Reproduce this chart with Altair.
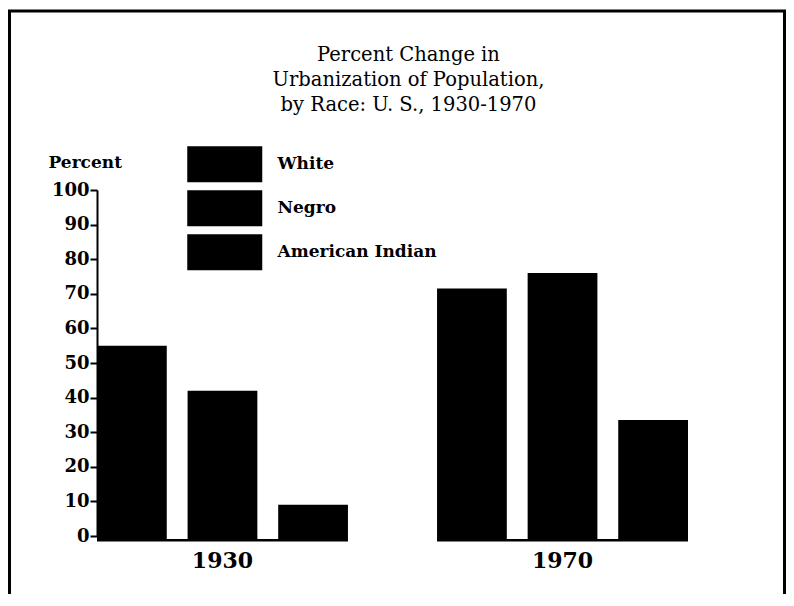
import altair as alt
import pandas as pd

years = ["1930", "1970"]
races = ["White", "Negro", "American Indian"]
pct_1930 = [55, 42, 9]
pct_1970 = [71.5, 76, 33.5]
y_ticks = list(range(0, 101, 10))
title_lines = ["Percent Change in", "Urbanization of Population,", "by Race: U. S., 1930-1970"]

rows = []
for yr, vals in zip(years, [pct_1930, pct_1970]):
    for r, v in zip(races, vals):
        rows.append({"year": yr, "race": r, "pct": v})
df = pd.DataFrame(rows)
df_years = pd.DataFrame({"year": years})

SERIF = "DejaVu Serif"
W, H = 591, 346
PAD_L, PAD_T, PAD_R, PAD_B = 89, 182, 98, 58

xscale = alt.Scale(domain=years, paddingInner=0.262, paddingOuter=0)
yscale = alt.Scale(domain=[0, 100], nice=False)
yaxis = alt.Axis(values=y_ticks, grid=False, domainColor="black", domainWidth=2,
                 tickColor="black", tickWidth=2, tickSize=7, labelOverlap=False,
                 labelFont=SERIF, labelFontSize=18, labelFontWeight="bold",
                 labelColor="black", labelPadding=1,
                 title="Percent", titleAngle=0, titleAlign="left",
                 titleBaseline="alphabetic", titleX=-49, titleY=-23,
                 titleFont=SERIF, titleFontSize=17, titleFontWeight="bold",
                 titleColor="black")
xaxis = alt.Axis(domain=False, ticks=False, labelAngle=0,
                 labelFont=SERIF, labelFontSize=22, labelFontWeight="bold",
                 labelColor="black", labelPadding=14)

# legend box: 75 x 36 px drawn with a path spanning x in [-2, 2]
bars = alt.Chart(df).mark_bar(color="black").encode(
    x=alt.X("year:N", scale=xscale, title=None, axis=xaxis),
    xOffset=alt.XOffset("race:N", sort=races,
                        scale=alt.Scale(domain=races, paddingInner=0.23, paddingOuter=0)),
    y=alt.Y("pct:Q", scale=yscale, axis=yaxis),
    y2=alt.datum(-1.3),
    color=alt.Color("race:N", sort=races,
                    scale=alt.Scale(domain=races, range=["black", "black", "black"]),
                    legend=alt.Legend(title=None, orient="none", legendX=108.75, legendY=-44.75,
                                      symbolType="M-2,-0.96H2V0.96H-2Z", symbolSize=1406.25,
                                      symbolStrokeWidth=0, symbolFillColor="black",
                                      symbolOpacity=1, labelFont=SERIF, labelFontSize=17,
                                      labelFontWeight="bold", labelColor="black",
                                      labelOffset=33.75, rowPadding=7, padding=0)),
)

baseline = alt.Chart(df_years).mark_rect(color="black").encode(
    x=alt.X("year:N", scale=xscale, title=None, axis=xaxis),
    y=alt.YDatum(-0.9, scale=yscale, axis=yaxis),
    y2=alt.datum(-1.6),
)

frame = alt.Chart(pd.DataFrame({"f": [0]})).mark_rect(
    fillOpacity=0, stroke="black", strokeWidth=3
).encode(
    x=alt.value(-PAD_L + 1.5), x2=alt.value(W + PAD_R - 1.5),
    y=alt.value(-179), y2=alt.value(H + 90)
)

chart = alt.layer(bars, baseline, frame).properties(
    width=W, height=H,
    autosize=alt.AutoSizeParams(type="none"),
    padding={"left": PAD_L, "top": PAD_T, "right": PAD_R, "bottom": PAD_B},
    title=alt.Title(title_lines, font=SERIF, fontSize=19.5, fontWeight="normal",
                    color="black", lineHeight=25, anchor="middle", dx=16, offset=-106),
).configure_view(stroke=None)

chart.save("out.html", embed_options={"renderer": "svg", "actions": False})
